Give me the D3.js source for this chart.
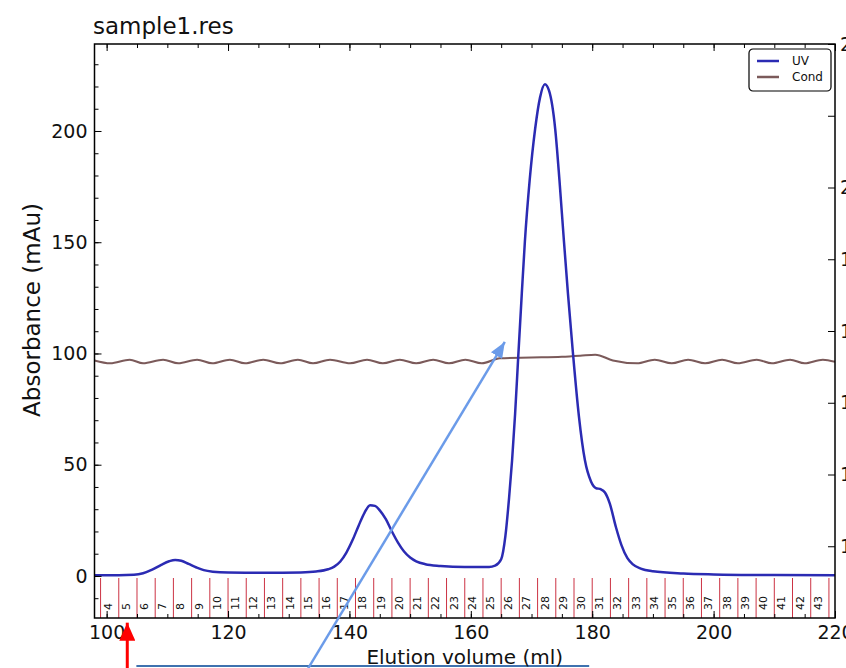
<!DOCTYPE html>
<html>
<head>
<meta charset="utf-8">
<script src="https://cdn.jsdelivr.net/npm/d3@7"></script>
<style>
    body { margin: 0; background: #fff; }
    svg { display: block; font-family: "DejaVu Sans", sans-serif; }
</style>
</head>
<body>
<svg id="chart"></svg>
<script>
// UV 曲线 (ml, mAu)
var uvVolume = [98, 102, 104.5, 106, 107.5, 109, 110.3, 111.3, 112.3, 113.5, 114.8, 116, 117.5, 120, 126, 132,
    134.5, 136.5, 137.5, 138.5, 139.5, 140.5, 141.5, 142.5, 143.4, 144.2, 145, 146, 147, 148, 149, 150, 151, 152.5,
    155, 159, 163, 164, 165, 165.7, 166.3, 166.8, 167.3, 167.8, 168.4, 168.9, 169.7, 170.6, 171.4, 172.2, 172.9,
    173.9, 174.6, 175.3, 176, 176.8, 177.8, 178.8, 179.8, 180.6, 181.4, 182.1, 182.9, 183.9, 184.8, 185.8, 186.7,
    188, 190, 195, 200, 210, 220];
var uvValue = [0.3, 0.3, 0.5, 1.2, 2.8, 5.0, 6.6, 7.2, 6.8, 5.4, 3.8, 2.6, 1.9, 1.5, 1.4, 1.6,
    2.0, 3.0, 4.2, 6.5, 10.5, 16, 22.5, 28.5, 31.8, 31.5, 29.5, 25.5, 20, 15, 11, 8.3, 6.6, 5.3,
    4.5, 4.0, 4.0, 4.6, 7.5, 18, 35, 52, 73, 98, 127, 150, 178, 201, 215, 221, 218,
    201, 178, 152, 127, 101, 72, 52, 42.5, 39.5, 39, 37.5, 32.5, 22, 14, 8, 5.2,
    3.3, 2.1, 1.1, 0.7, 0.4, 0.3];
// 电导曲线 (ml, mS/cm)
var condVolume = [98, 100.6, 103.8, 106, 109.3, 111.8, 114.9, 117.4, 120.3, 122.8, 125.8, 128.6, 131.5, 134,
    136.8, 140.1, 142.9, 145.5, 148.3, 151, 153.8, 156.4, 159.1, 161.8, 164.8, 170, 175, 178, 180.5, 183.4,
    187.4, 190.3, 193.1, 195.8, 198.6, 201.4, 204, 207.1, 209.6, 212.6, 215, 218, 220];
var condValue = [17.59, 17.55, 17.60, 17.55, 17.60, 17.55, 17.60, 17.55, 17.60, 17.55, 17.60, 17.55, 17.60, 17.55,
    17.60, 17.55, 17.60, 17.55, 17.60, 17.55, 17.60, 17.55, 17.60, 17.55, 17.62, 17.63, 17.64, 17.655, 17.67, 17.59,
    17.55, 17.60, 17.55, 17.60, 17.55, 17.60, 17.55, 17.60, 17.55, 17.60, 17.55, 17.60, 17.57];
// 收集管分界 (ml) 与编号
var fracBounds = [99, 102, 105, 108, 111, 114, 117, 120, 123, 126, 129, 132, 135, 138, 141, 144, 147, 150, 153,
    156, 159, 162, 165, 168, 171, 174, 177, 180, 183, 186, 189, 192, 195, 198, 201, 204, 207, 210, 213, 216, 219];
var fracLabels = ['4', '5', '6', '7', '8', '9', '10', '11', '12', '13', '14', '15', '16', '17', '18', '19', '20',
    '21', '22', '23', '24', '25', '26', '27', '28', '29', '30', '31', '32', '33', '34', '35', '36', '37', '38',
    '39', '40', '41', '42', '43'];
// 刻度
var xTicks = [100, 120, 140, 160, 180, 200, 220];
var yTicks = [0, 50, 100, 150, 200];
var condTicks = [15, 16, 17, 18, 19, 20, 21, 22];
var condTickLabels = ['15', '16', '17', '18', '19', '20', '', '22'];
var seriesNames = ['UV', 'Cond'];

function drawChromatogram(selector) {
    // svg的宽高
    var svgWidth = 846,
        svgHeight = 668;
    var padding = {left: 94.5, right: 11, top: 44, bottom: 50};
    var plotW = svgWidth - padding.left - padding.right,
        plotH = svgHeight - padding.top - padding.bottom;
    var uvColor = '#2b2bb3', condColor = '#7b5a5a';

    var svg = d3.select(selector)
        .attr('width', svgWidth)
        .attr('height', svgHeight);

    // 比例尺
    var x = d3.scaleLinear().domain([98, 220]).range([0, plotW]);
    var y = d3.scaleLinear().domain([-18.9, 239.1]).range([plotH, 0]);
    var yc = d3.scaleLinear().domain([14, 22]).range([plotH, 0]);

    svg.append('defs').append('clipPath')
        .attr('id', 'plot-clip')
        .append('rect')
        .attr('width', plotW)
        .attr('height', plotH);

    var g = svg.append('g')
        .attr('transform', 'translate(' + padding.left + ',' + padding.top + ')');

    // 收集管标记
    var frac = g.append('g');
    frac.selectAll('line')
        .data(fracBounds)
        .enter()
        .append('line')
        .attr('x1', function(d) {return x(d);})
        .attr('x2', function(d) {return x(d);})
        .attr('y1', plotH - 40)
        .attr('y2', plotH)
        .attr('stroke', '#cc3344')
        .attr('stroke-width', 1);
    frac.selectAll('text')
        .data(fracLabels)
        .enter()
        .append('text')
        .attr('transform', function(d, i) {
            return 'translate(' + (x(fracBounds[i]) + 11) + ',' + (plotH - 8) + ') rotate(-90)';
        })
        .attr('font-size', 11)
        .attr('fill', '#111')
        .text(function(d) {return d;});

    // 折线
    var uvLine = d3.line()
        .x(function(d, i) {return x(uvVolume[i]);})
        .y(function(d) {return y(d);})
        .curve(d3.curveMonotoneX);
    var condLine = d3.line()
        .x(function(d, i) {return x(condVolume[i]);})
        .y(function(d) {return yc(d);})
        .curve(d3.curveMonotoneX);
    var lines = g.append('g').attr('clip-path', 'url(#plot-clip)');
    lines.append('path')
        .attr('d', condLine(condValue))
        .attr('fill', 'none')
        .attr('stroke', condColor)
        .attr('stroke-width', 2);
    lines.append('path')
        .attr('d', uvLine(uvValue))
        .attr('fill', 'none')
        .attr('stroke', uvColor)
        .attr('stroke-width', 2.5);

    // 坐标轴 (刻度朝内)
    function styleAxis(sel, size) {
        sel.select('.domain').remove();
        sel.attr('font-family', null).attr('font-size', size);
        sel.selectAll('text').attr('fill', '#111');
        sel.selectAll('line').attr('stroke', '#000');
    }
    var xMinor = d3.range(100, 221, 5), yMinor = d3.range(-10, 231, 10);
    g.append('g')
        .attr('transform', 'translate(0,' + plotH + ')')
        .call(d3.axisBottom(x).tickValues(xMinor).tickSizeInner(-4).tickSizeOuter(0).tickFormat(''))
        .call(styleAxis, 19);
    g.append('g')
        .attr('transform', 'translate(0,' + plotH + ')')
        .call(d3.axisBottom(x).tickValues(xTicks).tickSizeInner(-7).tickSizeOuter(0).tickPadding(8).tickFormat(d3.format('d')))
        .call(styleAxis, 19);
    g.append('g')
        .call(d3.axisTop(x).tickValues(xMinor).tickSizeInner(-4).tickSizeOuter(0).tickFormat(''))
        .call(styleAxis, 19);
    g.append('g')
        .call(d3.axisTop(x).tickValues(xTicks).tickSizeInner(-7).tickSizeOuter(0).tickFormat(''))
        .call(styleAxis, 19);
    g.append('g')
        .call(d3.axisLeft(y).tickValues(yMinor).tickSizeInner(-4).tickSizeOuter(0).tickFormat(''))
        .call(styleAxis, 19);
    g.append('g')
        .call(d3.axisLeft(y).tickValues(yTicks).tickSizeInner(-7).tickSizeOuter(0).tickPadding(7))
        .call(styleAxis, 19);
    g.append('g')
        .attr('transform', 'translate(' + plotW + ',0)')
        .call(d3.axisRight(yc).tickValues(condTicks).tickSizeInner(-7).tickSizeOuter(0).tickPadding(5)
            .tickFormat(function(d, i) {return condTickLabels[i];}))
        .call(styleAxis, 19);

    // 边框
    g.append('rect')
        .attr('width', plotW)
        .attr('height', plotH)
        .attr('fill', 'none')
        .attr('stroke', '#000')
        .attr('stroke-width', 1.5);

    // 图例
    var legend = g.append('g')
        .attr('transform', 'translate(' + (plotW - 86) + ',5)');
    legend.append('rect')
        .attr('width', 82)
        .attr('height', 42)
        .attr('rx', 4)
        .attr('fill', '#fff')
        .attr('stroke', '#000')
        .attr('stroke-width', 1.2);
    var items = legend.selectAll('.legend')
        .data(seriesNames)
        .enter()
        .append('g')
        .attr('class', 'legend')
        .attr('transform', function(d, i) {
            return 'translate(0,' + (12 + i * 16) + ')';
        });
    items.append('line')
        .attr('x1', 8)
        .attr('x2', 30)
        .attr('stroke', function(d, i) {return [uvColor, condColor][i];})
        .attr('stroke-width', 2.5);
    items.append('text')
        .attr('x', 43)
        .attr('y', 4)
        .attr('font-size', 12)
        .attr('fill', '#111')
        .text(function(d) {return d;});

    // 标题与轴标签
    svg.append('text')
        .attr('x', padding.left - 1.5)
        .attr('y', 34)
        .attr('font-size', 23)
        .attr('fill', '#111')
        .text('sample1.res');
    svg.append('text')
        .attr('x', padding.left + plotW / 2)
        .attr('y', 664)
        .attr('text-anchor', 'middle')
        .attr('font-size', 20)
        .attr('fill', '#111')
        .text('Elution volume (ml)');
    svg.append('text')
        .attr('transform', 'translate(40,310) rotate(-90)')
        .attr('text-anchor', 'middle')
        .attr('font-size', 23)
        .attr('fill', '#111')
        .text('Absorbance (mAu)');

    // 标注箭头
    var defs = svg.select('defs');
    defs.append('marker')
        .attr('id', 'head-red')
        .attr('markerUnits', 'userSpaceOnUse')
        .attr('viewBox', '0 0 18 16')
        .attr('refX', 18).attr('refY', 8)
        .attr('markerWidth', 18).attr('markerHeight', 16)
        .attr('orient', 'auto')
        .append('path').attr('d', 'M0,0L18,8L0,16Z').attr('fill', '#ff0000');
    defs.append('marker')
        .attr('id', 'head-blue')
        .attr('markerUnits', 'userSpaceOnUse')
        .attr('viewBox', '0 0 16 13')
        .attr('refX', 16).attr('refY', 6.5)
        .attr('markerWidth', 16).attr('markerHeight', 13)
        .attr('orient', 'auto')
        .append('path').attr('d', 'M0,0L16,6.5L0,13Z').attr('fill', '#6b9be9');
    g.append('line')
        .attr('x1', x(104.9)).attr('x2', x(179.5))
        .attr('y1', y(-40.5)).attr('y2', y(-40.5))
        .attr('stroke', '#3f72af')
        .attr('stroke-width', 2);
    g.append('line')
        .attr('x1', x(103.4)).attr('x2', x(103.4))
        .attr('y1', y(-43)).attr('y2', y(-21))
        .attr('stroke', '#ff0000')
        .attr('stroke-width', 3)
        .attr('marker-end', 'url(#head-red)');
    g.append('line')
        .attr('x1', x(133.2)).attr('y1', y(-41.5))
        .attr('x2', x(165.6)).attr('y2', y(105.2))
        .attr('stroke', '#6b9be9')
        .attr('stroke-width', 2.5)
        .attr('marker-end', 'url(#head-blue)');
}
drawChromatogram('#chart');
</script>
</body>
</html>
